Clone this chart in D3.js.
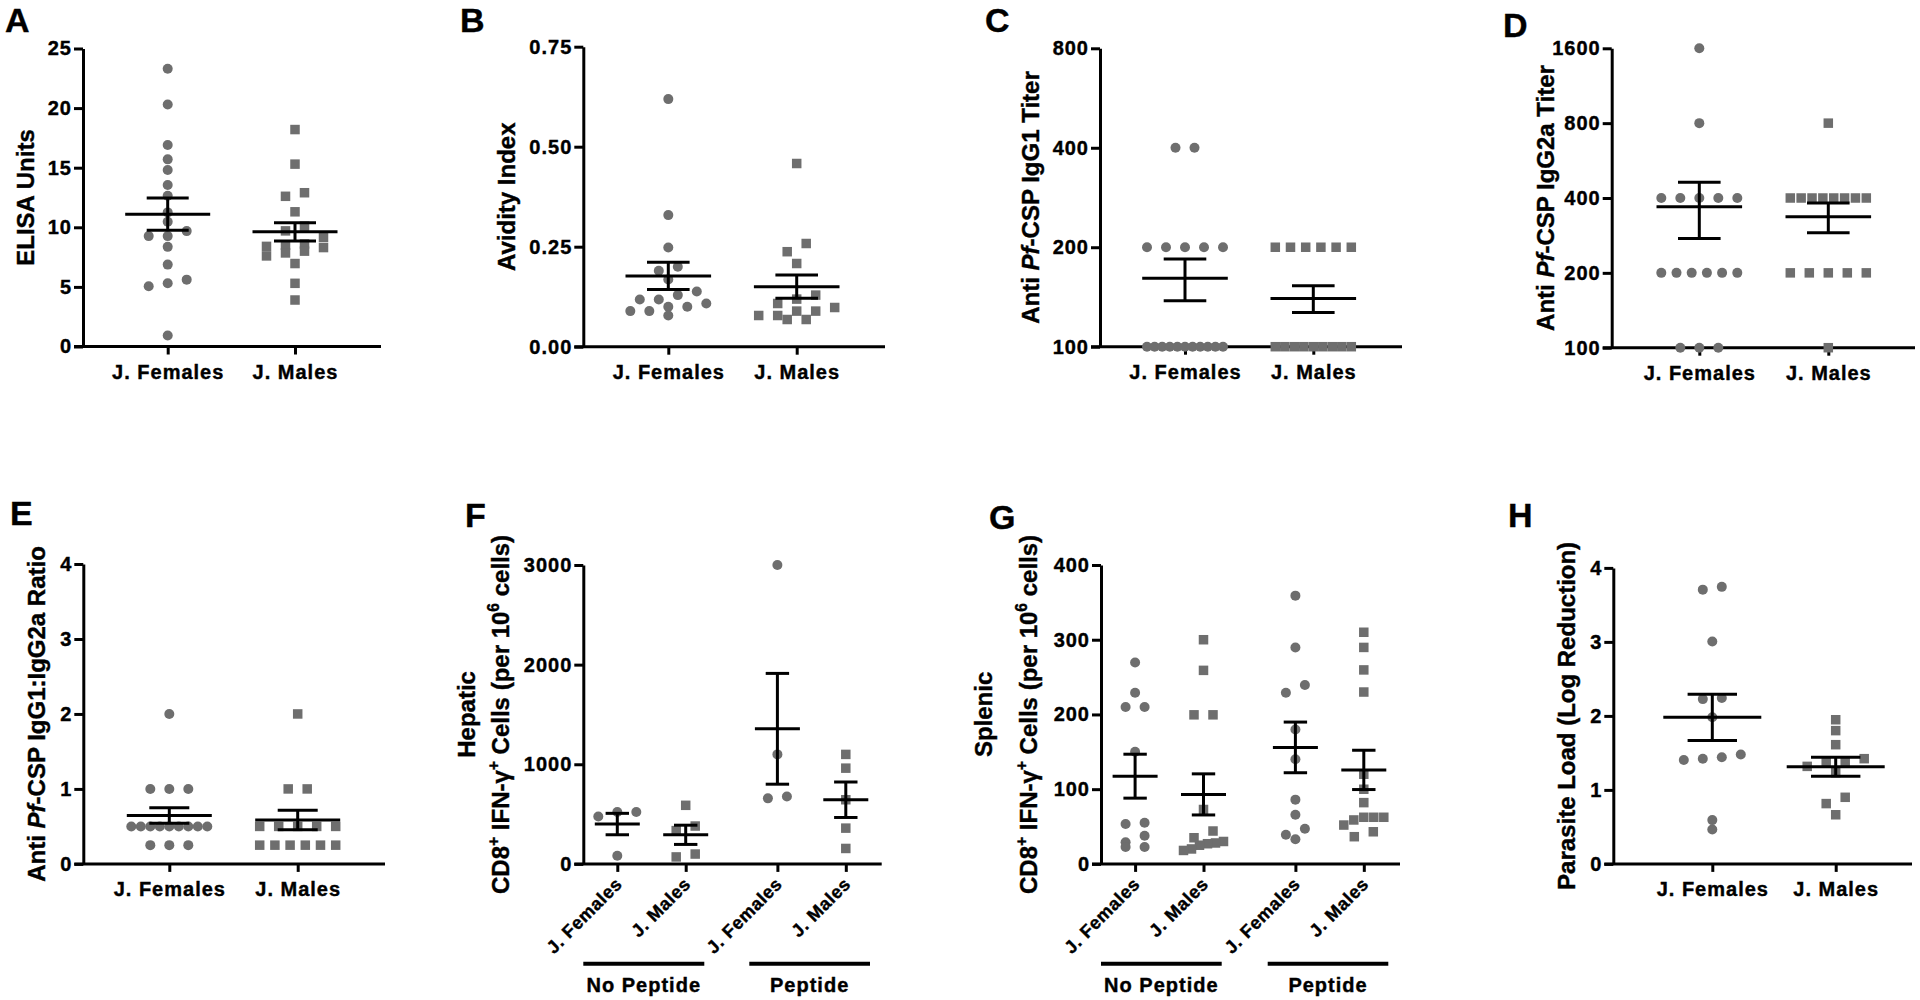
<!DOCTYPE html>
<html><head><meta charset="utf-8">
<script src="https://cdn.jsdelivr.net/npm/d3@7"></script>
<style>
body{margin:0;background:#fff;}
svg{display:block;font-family:"Liberation Sans",Arial,Helvetica,sans-serif;font-weight:bold;}
svg text{stroke:#000;stroke-width:0.4px;}
</style></head><body>
<svg id="chart" width="1920" height="1000"></svg>
<script>
// ---------- categories ----------
const sexes = ["J. Females", "J. Males"];
const groups = ["No Peptide", "Peptide"];

// ---------- A: ELISA Units ----------
const aFemales = [23.3, 20.3, 16.9, 15.7, 14.8, 13.55, 12.65, 11.25, 10.46, 9.68, 9.26, 9.26, 8.36, 6.87, 5.61, 5.30, 5.05, 0.93];
const aMales = [18.2, 15.3, 12.9, 12.6, 11.3, 10.1, 9.7, 9.15, 8.6, 8.5, 8.4, 8.3, 8.0, 7.85, 7.6, 6.96, 5.3, 3.9];
const aMean = [11.1, 9.62];
const aSem = [1.35, 0.77];
const aTicks = [0, 5, 10, 15, 20, 25];

// ---------- B: Avidity Index ----------
const bFemales = [0.619, 0.329, 0.248, 0.2, 0.19, 0.168, 0.138, 0.129, 0.118, 0.118, 0.108, 0.1, 0.1, 0.089, 0.089, 0.078];
const bMales = [0.458, 0.258, 0.2375, 0.208, 0.129, 0.119, 0.108, 0.098, 0.089, 0.089, 0.078, 0.078, 0.068, 0.068];
const bMean = [0.177, 0.15];
const bSem = [0.034, 0.029];
const bTicks = [0, 0.25, 0.5, 0.75];

// ---------- C: IgG1 titer ----------
const cFemales = [400, 400, 200, 200, 200, 200, 200, 100, 100, 100, 100, 100, 100, 100, 100, 100, 100, 100];
const cMales = [200, 200, 200, 200, 200, 200, 100, 100, 100, 100, 100, 100, 100, 100, 100];
const cMean = [161, 140];
const cSem = [23.3, 13];
const cTicks = [100, 200, 400, 800];

// ---------- D: IgG2a titer ----------
const dFemales = [1600, 800, 400, 400, 400, 400, 400, 200, 200, 200, 200, 200, 200, 100, 100, 100];
const dMales = [800, 400, 400, 400, 400, 400, 400, 400, 400, 200, 200, 200, 200, 200, 100];
const dMean = [369, 336];
const dSem = [94, 46];
const dTicks = [100, 200, 400, 800, 1600];

// ---------- E: IgG1:IgG2a ratio ----------
const eFemales = [2, 1, 1, 1, 0.5, 0.5, 0.5, 0.5, 0.5, 0.5, 0.5, 0.5, 0.5, 0.25, 0.25, 0.25];
const eMales = [2, 1, 1, 0.5, 0.5, 0.5, 0.5, 0.5, 0.25, 0.25, 0.25, 0.25, 0.25, 0.25];
const eMean = [0.646, 0.585];
const eSem = [0.103, 0.13];
const eTicks = [0, 1, 2, 3, 4];

// ---------- F: Hepatic CD8+ IFN-g+ ----------
const fNoPepFemales = [475, 521, 521, 81];
const fNoPepMales = [588, 334, 380, 70, 99];
const fPepFemales = [3000, 1099, 658, 676];
const fPepMales = [1099, 961, 644, 359, 155];
const fMean = [400, 292, 1356, 644];
const fSem = [107.5, 96.5, 556, 178];
const fTicks = [0, 1000, 2000, 3000];

// ---------- G: Splenic CD8+ IFN-g+ ----------
const gNoPepFemales = [269.5, 229, 210, 210, 150, 55, 53.5, 37.6, 29, 22.5, 22.5];
const gNoPepMales = [300, 259, 199.5, 199.5, 72.8, 44, 35, 30, 28, 27, 25, 20, 18];
const gPepFemales = [359, 289.7, 239.4, 229, 179.8, 140, 86, 65.7, 47, 39, 33];
const gPepMales = [310, 289.7, 259.6, 230, 120, 99.9, 82, 62.4, 62.4, 62.4, 58.8, 52, 43, 36.4];
const gMean = [117.4, 93, 155.9, 125.8];
const gSem = [29.4, 27.5, 33.9, 26.3];
const gTicks = [0, 100, 200, 300, 400];

// ---------- H: Parasite load ----------
const hFemales = [3.744, 3.706, 3.005, 2.242, 2.227, 1.981, 1.479, 1.441, 1.422, 1.403, 0.592, 0.464];
const hMales = [1.948, 1.801, 1.611, 1.422, 1.384, 1.374, 1.318, 1.232, 0.9, 0.815, 0.664];
const hMean = [1.981, 1.313];
const hSem = [0.313, 0.128];
const hTicks = [0, 1, 2, 3, 4];

// ---------- rendering ----------
const svg = d3.select("#chart");
const gray = "#6e6e6e";

function swarm(vals, y, cx, step, maxW, tol) {
  const pts = vals.map(v => ({v, py: y(v)})).sort((a, b) => a.py - b.py);
  const rows = [];
  pts.forEach(p => {
    const r = rows[rows.length - 1];
    if (r && p.py - r[0].py < tol) r.push(p); else rows.push([p]);
  });
  rows.forEach(r => {
    r.sort((a, b) => a.v - b.v);
    const n = r.length;
    const sp = n > 1 ? Math.min(step, maxW / (n - 1)) : 0;
    r.forEach((p, k) => { p.x = cx + (k - (n - 1) / 2) * sp; });
  });
  return pts;
}

function styleAxis(a, size, spacing) {
  a.attr("font-family", null).attr("font-size", null);
  a.selectAll("path,line").attr("stroke", "#000").attr("stroke-width", 3);
  a.selectAll("text").attr("fill", "#000").attr("font-size", size).style("letter-spacing", spacing + "px");
}

function rotLabel(g, x, yc, segs, size) {
  const t = g.append("text")
    .attr("transform", `translate(${x},${yc}) rotate(-90)`)
    .attr("text-anchor", "middle")
    .attr("y", 0.36 * size)
    .attr("font-size", size)
    .attr("fill", "#000");
  let raised = false;
  segs.forEach(s => {
    const ts = t.append("tspan").text(s.t);
    if (s.it) ts.attr("font-style", "italic");
    if (s.sup) {
      ts.attr("font-size", size * 0.65).attr("dy", -size * 0.42);
      raised = true;
    } else if (raised) {
      ts.attr("dy", size * 0.42);
      raised = false;
    }
  });
}

function panel(cfg) {
  const L = cfg.layout;
  const g = svg.append("g");
  const y = (cfg.log ? d3.scaleLog().base(2) : d3.scaleLinear()).domain(cfg.domain).range([L.yBot, L.yTop]);

  // y axis
  const ya = g.append("g").attr("transform", `translate(${L.x0},0)`)
    .call(d3.axisLeft(y).tickValues(cfg.ticks).tickFormat(cfg.fmt).tickSize(9).tickPadding(2).tickSizeOuter(0));
  styleAxis(ya, 20, 1);

  // x axis line
  g.append("line").attr("x1", L.x0 - 9).attr("x2", L.x1).attr("y1", L.yBot).attr("y2", L.yBot)
    .attr("stroke", "#000").attr("stroke-width", 3);

  // categories
  let xScale, keys;
  if (cfg.grouped) {
    const xg = d3.scalePoint().domain(groups).range(L.groupCenters);
    const xs = d3.scalePoint().domain(sexes).range([-L.inner, L.inner]);
    keys = [];
    groups.forEach(gr => sexes.forEach(s => keys.push(gr + "|" + s)));
    xScale = d3.scaleOrdinal().domain(keys).range(keys.map(k => { const [gr, s] = k.split("|"); return xg(gr) + xs(s); }));
  } else {
    keys = sexes;
    xScale = d3.scalePoint().domain(sexes).range(L.cats);
  }
  const xa = g.append("g").attr("transform", `translate(0,${L.yBot})`)
    .call(d3.axisBottom(xScale).tickSize(8).tickPadding(10).tickFormat(k => k.split("|").pop()));
  xa.select(".domain").remove();
  styleAxis(xa, 20, 1);

  if (cfg.grouped) {
    xa.selectAll(".tick text")
      .attr("x", 0).attr("y", 0).attr("dy", "0.35em")
      .attr("transform", "translate(1,17) rotate(-45)")
      .attr("text-anchor", "end")
      .attr("font-size", 18).style("letter-spacing", "0.6px");
    groups.forEach((gr, i) => {
      const [a, b] = L.lines[i];
      g.append("line").attr("x1", a).attr("x2", b).attr("y1", L.lineY).attr("y2", L.lineY)
        .attr("stroke", "#000").attr("stroke-width", 4);
      g.append("text").attr("x", (a + b) / 2).attr("y", L.groupLabelY).attr("text-anchor", "middle")
        .attr("font-size", 20).style("letter-spacing", "1px").attr("fill", "#000").text(gr);
    });
  }

  // points
  cfg.series.forEach((vals, i) => {
    const cx = xScale(keys[i]);
    const pts = swarm(vals, y, cx, 19, L.maxW, 9.2);
    if (i % 2 === 0) {
      g.selectAll(null).data(pts).join("circle")
        .attr("cx", d => d.x).attr("cy", d => d.py).attr("r", 5).attr("fill", gray);
    } else {
      g.selectAll(null).data(pts).join("rect")
        .attr("x", d => d.x - 4.75).attr("y", d => d.py - 4.75).attr("width", 9.5).attr("height", 9.5).attr("fill", gray);
    }
  });

  // mean +/- SEM
  cfg.means.forEach((m, i) => {
    const cx = xScale(keys[i]);
    const ym = y(m), yu = y(m + cfg.sems[i]), yl = y(m - cfg.sems[i]);
    const eb = g.append("g").attr("stroke", "#000").attr("stroke-width", 3);
    eb.append("line").attr("x1", cx - L.meanHW).attr("x2", cx + L.meanHW).attr("y1", ym).attr("y2", ym);
    eb.append("line").attr("x1", cx).attr("x2", cx).attr("y1", yu).attr("y2", yl);
    eb.append("line").attr("x1", cx - L.capHW).attr("x2", cx + L.capHW).attr("y1", yu).attr("y2", yu);
    eb.append("line").attr("x1", cx - L.capHW).attr("x2", cx + L.capHW).attr("y1", yl).attr("y2", yl);
  });

  // y title
  const yc = (L.yTop + L.yBot) / 2;
  if (Array.isArray(cfg.title[0])) {
    cfg.title.forEach((segs, i) => rotLabel(g, L.labelX[i], yc, segs, 24));
  } else {
    rotLabel(g, L.labelX, yc, cfg.title, 24);
  }

  // panel letter
  g.append("text").attr("x", L.letter[0]).attr("y", L.letter[1]).attr("font-size", 34)
    .attr("fill", "#000").text(cfg.letter);
}

const fmtInt = d3.format("d");
const cd8Title = [{t: "CD8"}, {t: "+", sup: true}, {t: " IFN-"}, {t: "\u03B3"}, {t: "+", sup: true}, {t: " Cells (per 10"}, {t: "6", sup: true}, {t: " cells)"}];

panel({letter: "A", series: [aFemales, aMales], means: aMean, sems: aSem, ticks: aTicks, domain: [0, 25], fmt: fmtInt,
  title: [{t: "ELISA Units"}],
  layout: {x0: 83, x1: 381, yTop: 48.5, yBot: 346.5, cats: [167.7, 295], letter: [5, 32], labelX: 25, meanHW: 42.5, capHW: 21, maxW: 76}});

panel({letter: "B", series: [bFemales, bMales], means: bMean, sems: bSem, ticks: bTicks, domain: [0, 0.75], fmt: d3.format(".2f"),
  title: [{t: "Avidity Index"}],
  layout: {x0: 583.3, x1: 885, yTop: 46.7, yBot: 346.7, cats: [668.3, 796.7], letter: [460, 32], labelX: 506.7, meanHW: 42.8, capHW: 21.3, maxW: 76}});

panel({letter: "C", series: [cFemales, cMales], means: cMean, sems: cSem, ticks: cTicks, domain: [100, 800], log: true, fmt: fmtInt,
  title: [{t: "Anti "}, {t: "Pf", it: true}, {t: "-CSP IgG1 Titer"}],
  layout: {x0: 1100, x1: 1402, yTop: 48.3, yBot: 346.7, cats: [1185, 1313.3], letter: [985, 32], labelX: 1030, meanHW: 42.8, capHW: 21.3, maxW: 76}});

panel({letter: "D", series: [dFemales, dMales], means: dMean, sems: dSem, ticks: dTicks, domain: [100, 1600], log: true, fmt: fmtInt,
  title: [{t: "Anti "}, {t: "Pf", it: true}, {t: "-CSP IgG2a Titer"}],
  layout: {x0: 1611.7, x1: 1915, yTop: 48.3, yBot: 347.7, cats: [1699.3, 1828.3], letter: [1503, 37], labelX: 1545, meanHW: 42.8, capHW: 21.3, maxW: 76}});

panel({letter: "E", series: [eFemales, eMales], means: eMean, sems: eSem, ticks: eTicks, domain: [0, 4], fmt: fmtInt,
  title: [{t: "Anti "}, {t: "Pf", it: true}, {t: "-CSP IgG1:IgG2a Ratio"}],
  layout: {x0: 83.3, x1: 385, yTop: 564, yBot: 863.9, cats: [169.3, 297.7], letter: [10, 525], labelX: 36.7, meanHW: 42.5, capHW: 20, maxW: 76}});

panel({letter: "F", grouped: true, series: [fNoPepFemales, fNoPepMales, fPepFemales, fPepMales], means: fMean, sems: fSem, ticks: fTicks, domain: [0, 3000], fmt: fmtInt,
  title: [[{t: "Hepatic"}], cd8Title],
  layout: {x0: 583.3, x1: 881.7, yTop: 565, yBot: 863.9, groupCenters: [651.5, 811.6], inner: 34.2,
    lines: [[583.3, 704.3], [749.3, 870]], lineY: 963.8, groupLabelY: 992, letter: [465, 527], labelX: [466.7, 500],
    meanHW: 22.5, capHW: 11.7, maxW: 40}});

panel({letter: "G", grouped: true, series: [gNoPepFemales, gNoPepMales, gPepFemales, gPepMales], means: gMean, sems: gSem, ticks: gTicks, domain: [0, 400], fmt: fmtInt,
  title: [[{t: "Splenic"}], cd8Title],
  layout: {x0: 1101, x1: 1400, yTop: 565, yBot: 863.9, groupCenters: [1169.3, 1329.6], inner: 34.2,
    lines: [[1101, 1221.7], [1267.7, 1388.3]], lineY: 963.8, groupLabelY: 992, letter: [989, 529], labelX: [983.3, 1028.3],
    meanHW: 22.5, capHW: 11.7, maxW: 40}});

panel({letter: "H", series: [hFemales, hMales], means: hMean, sems: hSem, ticks: hTicks, domain: [0, 4], fmt: fmtInt,
  title: [{t: "Parasite Load (Log Reduction)"}],
  layout: {x0: 1613.3, x1: 1912, yTop: 567.9, yBot: 863.9, cats: [1712.3, 1835.7], letter: [1508, 527], labelX: 1566.7, meanHW: 49, capHW: 24.7, maxW: 76}});
</script>
</body></html>
